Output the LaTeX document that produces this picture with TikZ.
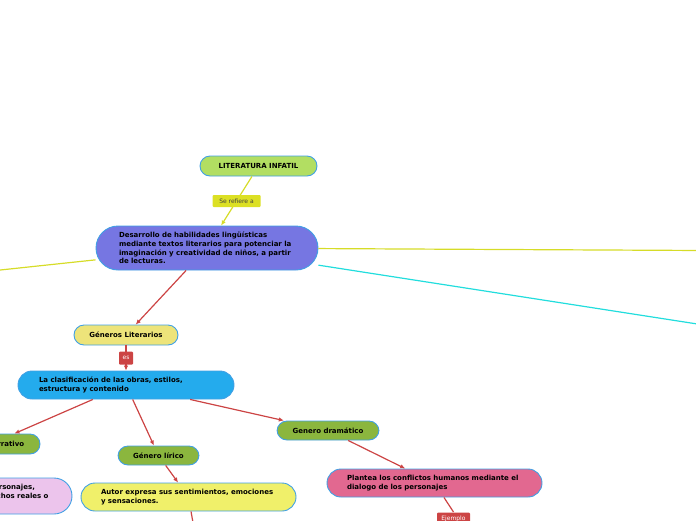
\documentclass[tikz,border=0pt]{standalone}
\usepackage{fontspec}
\setmainfont{DejaVu Sans}
\usetikzlibrary{arrows.meta}
\definecolor{rim}{RGB}{64,160,228}
\definecolor{litfill}{RGB}{178,222,98}
\definecolor{lnyellow}{RGB}{214,220,40}
\definecolor{tagfill}{RGB}{220,224,36}
\definecolor{desfill}{RGB}{118,118,226}
\definecolor{lncyan}{RGB}{34,221,221}
\definecolor{lnred}{RGB}{204,68,68}
\definecolor{genfill}{RGB}{237,228,122}
\definecolor{clasfill}{RGB}{36,171,237}
\definecolor{grnfill}{RGB}{139,182,62}
\definecolor{autfill}{RGB}{240,240,106}
\definecolor{pinkfill}{RGB}{236,196,236}
\definecolor{plafill}{RGB}{226,104,144}
\tikzset{
  pill/.style={draw=rim, line width=0.9pt, fill=#1, rounded corners=10pt,
    font=\bfseries\fontsize{7}{8.7}\selectfont, inner sep=0pt, minimum height=20pt},
  bubble/.style={pill=#1, align=left, inner xsep=20pt, rounded corners=14pt, minimum height=28pt},
  tag/.style={fill=#1, font=\fontsize{6}{7}\selectfont, inner sep=0pt, rounded corners=1pt},
  wire/.style={line width=1.2pt, draw=#1},
  tip/.style={-{Latex[length=5pt,width=4.5pt]}},
}
\begin{document}
\begin{tikzpicture}[x=1pt,y=-1pt]
  \useasboundingbox (0,0) rectangle (696,520);
  % ends that run off the page
  \coordinate (outL) at (-300,302);
  \coordinate (outR) at (1000,252);
  \coordinate (outC) at (1000,371);
  \coordinate (outA) at (206,597);

  \node[pill=litfill, minimum width=117pt] (lit) at (258.5,166) {LITERATURA INFATIL};
  \node[bubble=desfill, rounded corners=22pt, minimum height=44pt, inner xsep=23pt, text width=176pt] (des) at (207,248)
    {Desarrollo de habilidades lingüísticas\\mediante textos literarios para potenciar la\\imaginación y creatividad de niños, a partir\\de lecturas.};
  \node[pill=genfill, minimum width=104pt] (gen) at (126,335) {Géneros Literarios};
  \node[bubble=clasfill, inner xsep=21pt, text width=174pt] (clas) at (126,385)
    {La clasificación de las obras, estilos,\\estructura y contenido};
  \node[pill=grnfill, minimum width=99pt] (nar) at (-9.5,444) {Género narrativo};
  \node[pill=grnfill, minimum width=81pt, minimum height=19pt] (lir) at (158.5,455.5) {Género lírico};
  \node[pill=grnfill, minimum width=102pt, minimum height=19pt] (dra) at (328,430.5) {Genero dramático};
  \node[bubble=autfill, text width=175pt] (aut) at (188.5,497)
    {Autor expresa sus sentimientos, emociones\\y sensaciones.};
  \node[bubble=pinkfill, rounded corners=18pt, minimum height=36pt, inner xsep=16pt, text width=116pt] (nrt) at (-2,496)
    {Narra sobre personajes,\\basados en hechos reales o\\ficticios.};
  \node[bubble=plafill, text width=175pt] (pla) at (434.5,483)
    {Plantea los conflictos humanos mediante el\\dialogo de los personajes};

  % connectors
  \draw[wire=lnyellow, tip] (lit) -- node[tag=tagfill, text=black!75, minimum width=48pt, minimum height=12pt]{Se refiere a} (des);
  \foreach \t/\c in {outL/lnyellow, outR/lnyellow, outC/lncyan}{
    \draw[wire=\c] (des) -- (\t);
  }
  \draw[wire=lnred, tip] (des) -- (gen);
  \draw[wire=lnred, tip] (gen) -- node[tag=lnred, text=white, minimum width=14pt, minimum height=13pt]{es} (clas);
  \foreach \t in {nar, lir, dra}{
    \draw[wire=lnred, tip] (clas) -- (\t);
  }
  \draw[wire=lnred, tip] (lir) -- (aut);
  \draw[wire=lnred] (aut) -- (outA);
  \draw[wire=lnred, tip] (dra) -- (pla);
  \draw[wire=lnred] (pla) -- node[tag=lnred, text=white, minimum width=33pt, minimum height=12pt, pos=1, anchor=north]{Ejemplo} ++(19,29);
\end{tikzpicture}
\end{document}
